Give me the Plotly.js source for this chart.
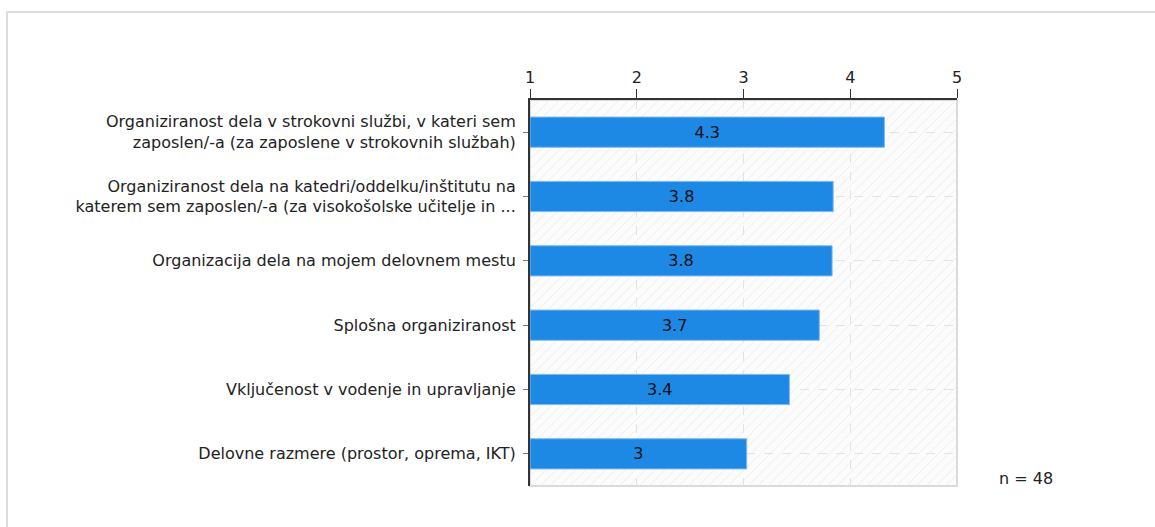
<!DOCTYPE html>
<html>
<head>
<meta charset="utf-8">
<script src="https://cdn.plot.ly/plotly-3.0.1.min.js"></script>
<style>
  html, body { margin: 0; padding: 0; background: #fff; }
  #wrap { position: relative; width: 1155px; height: 527px; }
  #chart { width: 1155px; height: 527px; }
  #frame { position: absolute; left: 6px; top: 11px; right: -4px; bottom: -4px;
           border-top: 2px solid #dcdcdc; border-left: 2px solid #dcdcdc; pointer-events: none; }
</style>
</head>
<body>
<div id="wrap">
  <div id="chart"></div>
  <div id="frame"></div>
</div>
<script>
const categories = [
  "Organiziranost dela v strokovni službi, v kateri sem<br>zaposlen/-a (za zaposlene v strokovnih službah)",
  "Organiziranost dela na katedri/oddelku/inštitutu na<br>katerem sem zaposlen/-a (za visokošolske učitelje in ...",
  "Organizacija dela na mojem delovnem mestu",
  "Splošna organiziranost",
  "Vključenost v vodenje in upravljanje",
  "Delovne razmere (prostor, oprema, IKT)"
];
const values = [4.32, 3.84, 3.83, 3.71, 3.43, 3.03];
const valueLabels = ["4.3", "3.8", "3.8", "3.7", "3.4", "3"];
const scaleTicks = [1, 2, 3, 4, 5];
const nLabel = "n = 48";

const FONT = "DejaVu Sans, sans-serif";
const XMIN = scaleTicks[0], XMAX = scaleTicks[scaleTicks.length - 1];

const bgTrace = {
  type: "bar", orientation: "h",
  y: categories,
  x: categories.map(() => XMAX - XMIN),
  base: XMIN,
  width: 1,
  marker: {
    color: "rgba(0,0,0,0)",
    line: { width: 0 },
    pattern: { shape: "/", fgcolor: "#e9e9e9", bgcolor: "rgba(0,0,0,0)", size: 7, solidity: 0.12 }
  },
  hoverinfo: "skip", showlegend: false
};

const dataTrace = {
  type: "bar", orientation: "h",
  y: categories,
  x: values.map(v => v - XMIN),
  base: XMIN,
  width: 0.47,
  text: valueLabels,
  textposition: "inside",
  insidetextanchor: "middle",
  textfont: { family: FONT, size: 16, color: "#111" },
  marker: { color: "#1e88e5", line: { color: "#7fbaf0", width: 1 } },
  hoverinfo: "skip", showlegend: false
};

const layout = {
  width: 1155, height: 527,
  margin: { l: 530, r: 198, t: 100, b: 41 },
  paper_bgcolor: "rgba(0,0,0,0)",
  plot_bgcolor: "#fcfcfc",
  barmode: "overlay",
  font: { family: FONT, size: 16, color: "#222" },
  xaxis: {
    side: "top",
    range: [XMIN, XMAX],
    tickvals: scaleTicks,
    ticktext: scaleTicks.map(String),
    ticks: "outside", ticklen: 9, tickcolor: "#333", tickwidth: 1,
    showline: true, linecolor: "#333", linewidth: 2,
    showgrid: true, gridcolor: "#e2e2e2", griddash: "dash", gridwidth: 1,
    zeroline: false,
    tickfont: { family: FONT, size: 16, color: "#222" },
    fixedrange: true
  },
  yaxis: {
    autorange: "reversed",
    ticks: "outside", ticklen: 5, tickcolor: "#777", tickwidth: 1,
    showline: true, linecolor: "#333", linewidth: 2,
    showgrid: true, gridcolor: "#e2e2e2", griddash: "dash", gridwidth: 1,
    ticklabelstandoff: 4,
    tickfont: { family: FONT, size: 16, color: "#222" },
    fixedrange: true
  },
  shapes: [{
    type: "rect", xref: "paper", yref: "paper", x0: 0, x1: 1, y0: 0, y1: 1,
    line: { color: "#dadada", width: 2 }, layer: "below"
  }],
  annotations: [{
    xref: "paper", yref: "paper", x: 1.162, y: 0.02,
    text: nLabel, showarrow: false, xanchor: "center", yanchor: "middle",
    font: { family: FONT, size: 16, color: "#222" }
  }],
  showlegend: false
};

Plotly.newPlot("chart", [bgTrace, dataTrace], layout, { displayModeBar: false, staticPlot: true });
</script>
</body>
</html>
